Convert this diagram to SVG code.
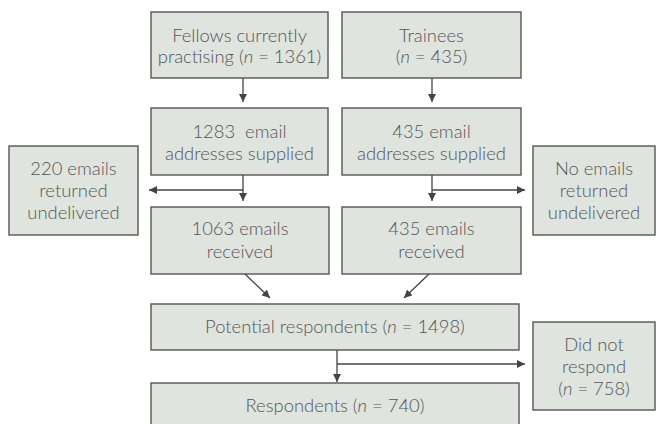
<svg xmlns="http://www.w3.org/2000/svg" width="658" height="424" viewBox="0 0 658 424">
<style>
.box{fill:#dfe4df;stroke:#555;stroke-width:1.4}
.t{font-family:Lato,"Liberation Sans",sans-serif;font-size:18.4px;font-weight:300;fill:#555;text-anchor:middle}
.c{fill:none;stroke:#444;stroke-width:1.3}
</style>
<defs>
<marker id="ah" viewBox="0 0 10 10" refX="10" refY="5" markerWidth="8" markerHeight="8" markerUnits="userSpaceOnUse" orient="auto">
<path d="M0,0 L10,5 L0,10 Z" fill="#444"/>
</marker>
</defs>
<rect width="658" height="424" fill="#fff"/>
<g id="fellows"><rect class="box" x="151" y="12" width="177" height="66"/>
<text class="t" x="239.5" y="41.5">Fellows currently</text>
<text class="t" x="239.5" y="63">practising (<tspan font-style="italic">n</tspan> = 1361)</text></g>
<g id="trainees"><rect class="box" x="342" y="12" width="179" height="66"/>
<text class="t" x="431.5" y="41.5">Trainees</text>
<text class="t" x="431.5" y="63">(<tspan font-style="italic">n</tspan> = 435)</text></g>
<g id="supplied1283"><rect class="box" x="151" y="108" width="177" height="67"/>
<text class="t" x="239.5" y="138" xml:space="preserve">1283  email</text>
<text class="t" x="239.5" y="160">addresses supplied</text></g>
<g id="supplied435"><rect class="box" x="342" y="108" width="179" height="67"/>
<text class="t" x="431.5" y="138">435 email</text>
<text class="t" x="431.5" y="160">addresses supplied</text></g>
<g id="returned220"><rect class="box" x="9" y="146" width="129" height="89"/>
<text class="t" x="73.5" y="175">220 emails</text>
<text class="t" x="73.5" y="197">returned</text>
<text class="t" x="73.5" y="219">undelivered</text></g>
<g id="noemails"><rect class="box" x="533" y="146" width="122" height="89"/>
<text class="t" x="594" y="175">No emails</text>
<text class="t" x="594" y="197">returned</text>
<text class="t" x="594" y="219">undelivered</text></g>
<g id="received1063"><rect class="box" x="151" y="207" width="178" height="67"/>
<text class="t" x="240" y="235">1063 emails</text>
<text class="t" x="240" y="258">received</text></g>
<g id="received435"><rect class="box" x="342" y="207" width="179" height="67"/>
<text class="t" x="431.5" y="235">435 emails</text>
<text class="t" x="431.5" y="258">received</text></g>
<g id="potential"><rect class="box" x="151" y="304" width="368" height="46"/>
<text class="t" x="335" y="333">Potential respondents (<tspan font-style="italic">n</tspan> = 1498)</text></g>
<g id="didnotrespond"><rect class="box" x="533" y="322" width="122" height="88"/>
<text class="t" x="594" y="351">Did not</text>
<text class="t" x="594" y="373">respond</text>
<text class="t" x="594" y="395">(<tspan font-style="italic">n</tspan> = 758)</text></g>
<g id="respondents"><rect class="box" x="151" y="383" width="368" height="50"/>
<text class="t" x="335" y="412">Respondents (<tspan font-style="italic">n</tspan> = 740)</text></g>
<g id="connectors">
<line class="c" x1="243" y1="78" x2="243" y2="102" marker-end="url(#ah)"/>
<line class="c" x1="432" y1="78" x2="432" y2="102" marker-end="url(#ah)"/>
<line class="c" x1="243" y1="175" x2="243" y2="201" marker-end="url(#ah)"/>
<line class="c" x1="243" y1="190" x2="149" y2="190" marker-end="url(#ah)"/>
<line class="c" x1="432" y1="175" x2="432" y2="201" marker-end="url(#ah)"/>
<line class="c" x1="432" y1="190" x2="525" y2="190" marker-end="url(#ah)"/>
<line class="c" x1="245" y1="274" x2="270" y2="298" marker-end="url(#ah)"/>
<line class="c" x1="429" y1="274" x2="404" y2="298" marker-end="url(#ah)"/>
<line class="c" x1="337" y1="350" x2="337" y2="382" marker-end="url(#ah)"/>
<line class="c" x1="337" y1="364" x2="525" y2="364" marker-end="url(#ah)"/>
</g>
</svg>
